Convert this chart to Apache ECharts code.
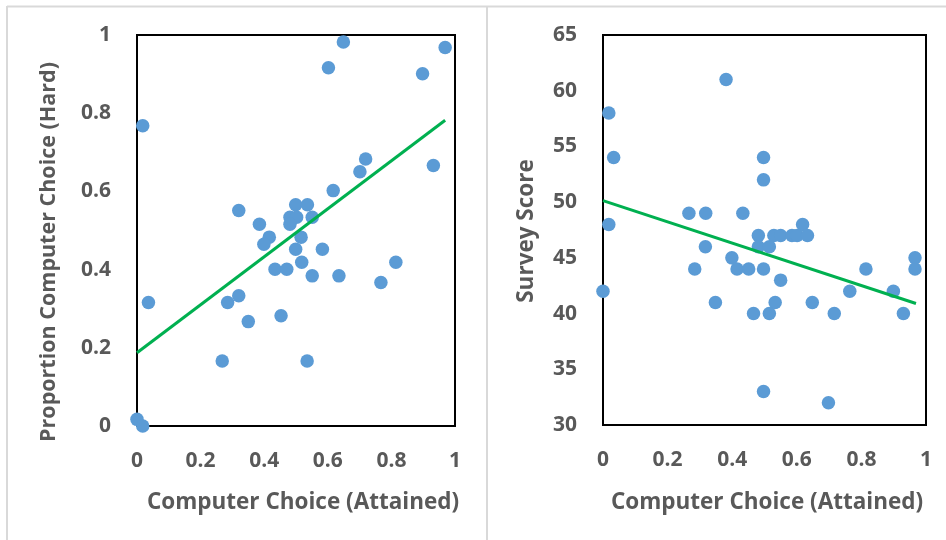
<!DOCTYPE html>
<html>
<head>
<meta charset="utf-8">
<script src="https://cdn.jsdelivr.net/npm/echarts@6/dist/echarts.min.js"></script>
<style>
html,body{margin:0;padding:0;background:#fff;}
#chart{width:946px;height:540px;}
</style>
</head>
<body>
<div id="chart"></div>
<script>
// Left panel: Computer Choice (Attained) vs Proportion Computer Choice (Hard)
const leftX = [0.649,0.602,0.969,0.898,0.018,0.719,0.701,0.932,0.617,0.320,0.499,0.536,0.481,0.502,0.551,0.481,0.385,0.416,0.399,0.516,0.499,0.583,0.518,0.814,0.434,0.471,0.551,0.635,0.767,0.036,0.285,0.320,0.350,0.453,0.268,0.535,0.000,0.018];
const leftY = [0.982,0.916,0.968,0.901,0.768,0.683,0.650,0.666,0.602,0.551,0.566,0.566,0.534,0.534,0.534,0.516,0.516,0.483,0.465,0.483,0.452,0.452,0.419,0.419,0.401,0.401,0.384,0.384,0.367,0.316,0.316,0.333,0.267,0.282,0.166,0.166,0.017,0.000];
const leftTrendX = [0, 0.969];
const leftTrendY = [0.1875, 0.782];

// Right panel: Computer Choice (Attained) vs Survey Score
const rightX = [0.381,0.018,0.033,0.497,0.497,0.018,0.000,0.266,0.318,0.433,0.618,0.481,0.529,0.550,0.585,0.601,0.633,0.481,0.515,0.317,0.399,0.284,0.415,0.451,0.497,0.550,0.814,0.966,0.966,0.764,0.899,0.348,0.533,0.648,0.466,0.515,0.716,0.930,0.497,0.698];
const rightY = [61,58,54,54,52,48,42,49,49,49,48,47,47,47,47,47,47,46,46,46,45,44,44,44,44,43,44,45,44,42,42,41,41,41,40,40,40,40,33,32];
const rightTrendX = [0, 0.969];
const rightTrendY = [50.14, 40.9];

// Axis ticks
const xTicks = {min: 0, max: 1, interval: 0.2};
const leftYTicks = {min: 0, max: 1, interval: 0.2};
const rightYTicks = {min: 30, max: 65, interval: 5};

const xTitle = 'Computer Choice (Attained)';
const leftYTitle = 'Proportion Computer Choice (Hard)';
const rightYTitle = 'Survey Score';

const FONT = '"Open Sans", "Noto Sans", sans-serif';
const TXT = '#595959';

function pairs(xs, ys){ return xs.map((x,i)=>[x, ys[i]]); }

const labelStyle = {color: TXT, fontFamily: FONT, fontSize: 21, fontWeight: 'bold'};

function xAxis(gi){
  return {
    type: 'value', gridIndex: gi, min: xTicks.min, max: xTicks.max, interval: xTicks.interval,
    axisLine: {show: false}, axisTick: {show: false}, splitLine: {show: false},
    axisLabel: Object.assign({margin: 25}, labelStyle)
  };
}
function yAxis(gi, t){
  return {
    type: 'value', gridIndex: gi, min: t.min, max: t.max, interval: t.interval,
    axisLine: {show: false}, axisTick: {show: false}, splitLine: {show: false},
    axisLabel: Object.assign({margin: 26}, labelStyle)
  };
}

function titleStyle(size){
  return {fill: TXT, font: 'bold ' + size + 'px ' + FONT, textAlign: 'center', textVerticalAlign: 'middle'};
}

const chart = echarts.init(document.getElementById('chart'), null, {renderer: 'canvas'});
chart.setOption({
  animation: false,
  backgroundColor: '#fff',
  grid: [
    {left: 137, top: 35, width: 318, height: 391, show: true, borderColor: '#000', borderWidth: 2, backgroundColor: 'transparent'},
    {left: 603, top: 35, width: 323, height: 390, show: true, borderColor: '#000', borderWidth: 2, backgroundColor: 'transparent'}
  ],
  xAxis: [xAxis(0), xAxis(1)],
  yAxis: [yAxis(0, leftYTicks), yAxis(1, rightYTicks)],
  graphic: [
    {type: 'line', shape: {x1: 7, y1: 6.5, x2: 946, y2: 6.5}, style: {stroke: '#d9d9d9', lineWidth: 2}, silent: true},
    {type: 'line', shape: {x1: 7, y1: 6, x2: 7, y2: 540}, style: {stroke: '#d9d9d9', lineWidth: 2}, silent: true},
    {type: 'line', shape: {x1: 487, y1: 6, x2: 487, y2: 540}, style: {stroke: '#d9d9d9', lineWidth: 2}, silent: true},
    {type: 'text', x: 303, y: 503, style: Object.assign({text: xTitle}, titleStyle(22.5))},
    {type: 'text', x: 767, y: 503, style: Object.assign({text: xTitle}, titleStyle(22.5))},
    {type: 'text', x: 49, y: 252, rotation: Math.PI/2, style: Object.assign({text: leftYTitle}, titleStyle(21.5))},
    {type: 'text', x: 527, y: 231, rotation: Math.PI/2, style: Object.assign({text: rightYTitle}, titleStyle(22.5))}
  ],
  series: [
    {type: 'scatter', xAxisIndex: 0, yAxisIndex: 0, data: pairs(leftX, leftY), symbolSize: 13.5, clip: false,
      itemStyle: {color: '#5B9BD5', opacity: 1}, z: 2},
    {type: 'line', xAxisIndex: 0, yAxisIndex: 0, data: pairs(leftTrendX, leftTrendY), showSymbol: false, symbol: 'none',
      lineStyle: {color: '#00B050', width: 3}, z: 3},
    {type: 'scatter', xAxisIndex: 1, yAxisIndex: 1, data: pairs(rightX, rightY), symbolSize: 13.5, clip: false,
      itemStyle: {color: '#5B9BD5', opacity: 1}, z: 2},
    {type: 'line', xAxisIndex: 1, yAxisIndex: 1, data: pairs(rightTrendX, rightTrendY), showSymbol: false, symbol: 'none',
      lineStyle: {color: '#00B050', width: 3}, z: 3}
  ]
});
</script>
</body>
</html>
